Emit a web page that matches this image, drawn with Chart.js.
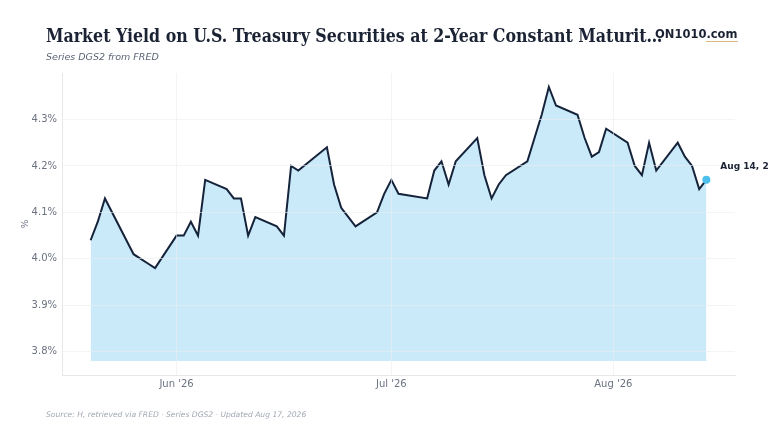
<!DOCTYPE html>
<html>
<head>
<meta charset="utf-8">
<script src="https://cdn.jsdelivr.net/npm/chart.js@4.4.1/dist/chart.umd.min.js"></script>
<style>
  html, body { margin: 0; padding: 0; background: #fff; }
  #quadro { position: relative; width: 768px; height: 432px; overflow: hidden; }
  #grafico { position: absolute; left: 0; top: 0; }
  .titulo {
    position: absolute; left: 46px; top: 25px; width: 622px;
    font: bold 17.6px 'DejaVu Serif Condensed', 'DejaVu Serif', serif; color: #1a2233;
    white-space: nowrap; overflow: hidden; text-overflow: ellipsis;
  }
  .marca {
    position: absolute; left: 655px; top: 27px;
    font: bold 11.5px 'DejaVu Sans', sans-serif; color: #1a2233;
  }
  .marca span { border-bottom: 1px solid #d9b77e; }
  .subtitulo {
    position: absolute; left: 46px; top: 51px;
    font: italic 9.5px 'DejaVu Sans', sans-serif; color: #5b6576;
  }
  .rodape {
    position: absolute; left: 46px; top: 410px;
    font: italic 7.6px 'DejaVu Sans', sans-serif; color: #a0a8b4;
  }
</style>
</head>
<body>
<div id="quadro">
  <canvas id="grafico" width="768" height="432"></canvas>
  <div class="titulo">Market Yield on U.S. Treasury Securities at 2-Year Constant Maturity, Quoted on an Investment Basis</div>
  <div class="marca">ON1010<span>.com</span></div>
  <div class="subtitulo">Series DGS2 from FRED</div>
  <div class="rodape">Source: H, retrieved via FRED · Series DGS2 · Updated Aug 17, 2026</div>
</div>
<script>
/* Datas de pregão (sem feriados) e rendimento em % */
const DATAS = [
  '2026-05-20', '2026-05-21', '2026-05-22', '2026-05-26', '2026-05-27', '2026-05-28', '2026-05-29',
  '2026-06-01', '2026-06-02', '2026-06-03', '2026-06-04', '2026-06-05',
  '2026-06-08', '2026-06-09', '2026-06-10', '2026-06-11', '2026-06-12',
  '2026-06-15', '2026-06-16', '2026-06-17', '2026-06-18',
  '2026-06-22', '2026-06-23', '2026-06-24', '2026-06-25', '2026-06-26',
  '2026-06-29', '2026-06-30', '2026-07-01', '2026-07-02',
  '2026-07-06', '2026-07-07', '2026-07-08', '2026-07-09', '2026-07-10',
  '2026-07-13', '2026-07-14', '2026-07-15', '2026-07-16', '2026-07-17',
  '2026-07-20', '2026-07-21', '2026-07-22', '2026-07-23', '2026-07-24',
  '2026-07-27', '2026-07-28', '2026-07-29', '2026-07-30', '2026-07-31',
  '2026-08-03', '2026-08-04', '2026-08-05', '2026-08-06', '2026-08-07',
  '2026-08-10', '2026-08-11', '2026-08-12', '2026-08-13', '2026-08-14'
];
const RENDIMENTO = [
  4.04, 4.08, 4.13, 4.01, 4.00, 3.99, 3.98,
  4.05, 4.05, 4.08, 4.05, 4.17,
  4.15, 4.13, 4.13, 4.05, 4.09,
  4.07, 4.05, 4.20, 4.19,
  4.24, 4.16, 4.11, 4.09, 4.07,
  4.10, 4.14, 4.17, 4.14,
  4.13, 4.19, 4.21, 4.16, 4.21,
  4.26, 4.18, 4.13, 4.16, 4.18,
  4.21, 4.26, 4.31, 4.37, 4.33,
  4.31, 4.26, 4.22, 4.23, 4.28,
  4.25, 4.20, 4.18, 4.25, 4.19,
  4.25, 4.22, 4.20, 4.15, 4.17
];
const TICKS_Y = [3.8, 3.9, 4.0, 4.1, 4.2, 4.3];
const TICKS_X = ['2026-06-01', '2026-07-01', '2026-08-01'];
const ROTULOS_X = ["Jun '26", "Jul '26", "Aug '26"];
const ROTULO_FINAL = 'Aug 14, 2026: 4.17%';

/* Dias desde 1970 — eixo x linear, sem adaptador de datas */
const dia = s => Date.UTC(+s.slice(0, 4), +s.slice(5, 7) - 1, +s.slice(8, 10)) / 86400000;

const pontos = DATAS.map((d, i) => ({ x: dia(d), y: RENDIMENTO[i] }));
const ultimo = pontos.length - 1;

Chart.defaults.font.family = "'DejaVu Sans', sans-serif";
Chart.defaults.color = '#6b7280';

// Rótulo do último ponto (cortado pela borda, como no original)
const rotuloFinal = {
  id: 'rotuloFinal',
  afterDraw(chart) {
    const p = chart.getDatasetMeta(0).data[ultimo];
    const ctx = chart.ctx;
    ctx.save();
    ctx.font = "bold 9px 'DejaVu Sans', sans-serif";
    ctx.fillStyle = '#1a2233';
    ctx.textBaseline = 'middle';
    ctx.fillText(ROTULO_FINAL, p.x + 14, p.y - 13);
    ctx.restore();
  }
};

const grade = { color: 'rgba(233, 236, 240, 0.6)', drawTicks: false, z: 1 };
const borda = { color: '#e5e7eb', z: 1 };

new Chart(document.getElementById('grafico'), {
  type: 'line',
  data: {
    datasets: [{
      data: pontos,
      borderColor: '#15233a',
      borderWidth: 2,
      backgroundColor: 'rgba(150, 212, 243, 0.5)',
      fill: { value: 3.78 },
      tension: 0,
      pointRadius: ctx => ctx.dataIndex === ultimo ? 4 : 0,
      pointBackgroundColor: '#4cbfec',
      pointBorderWidth: 0,
      pointHoverRadius: 0
    }]
  },
  plugins: [rotuloFinal],
  options: {
    responsive: false,
    animation: false,
    events: [],
    layout: { padding: { left: 16, top: 73, right: 33, bottom: 32 } },
    plugins: { legend: { display: false }, tooltip: { enabled: false } },
    scales: {
      x: {
        type: 'linear',
        min: dia('2026-05-16'),
        max: dia('2026-08-18'),
        afterBuildTicks: s => { s.ticks = TICKS_X.map(t => ({ value: dia(t) })); },
        afterFit: s => { s.height = 25; },
        ticks: {
          font: { size: 10 }, color: '#6b7280', padding: 3,
          callback: v => ROTULOS_X[TICKS_X.findIndex(t => dia(t) === v)]
        },
        grid: grade,
        border: borda
      },
      y: {
        min: 3.75,
        max: 4.40,
        afterBuildTicks: s => { s.ticks = TICKS_Y.map(v => ({ value: v })); },
        afterFit: s => { s.width = 46; },
        ticks: {
          font: { size: 10 }, color: '#6b7280', padding: 5,
          callback: v => v.toFixed(1) + '%'
        },
        title: { display: true, text: '%', font: { size: 9 }, color: '#6b7280', padding: { top: 4, bottom: 2 } },
        grid: grade,
        border: borda
      }
    }
  }
});
</script>
</body>
</html>
